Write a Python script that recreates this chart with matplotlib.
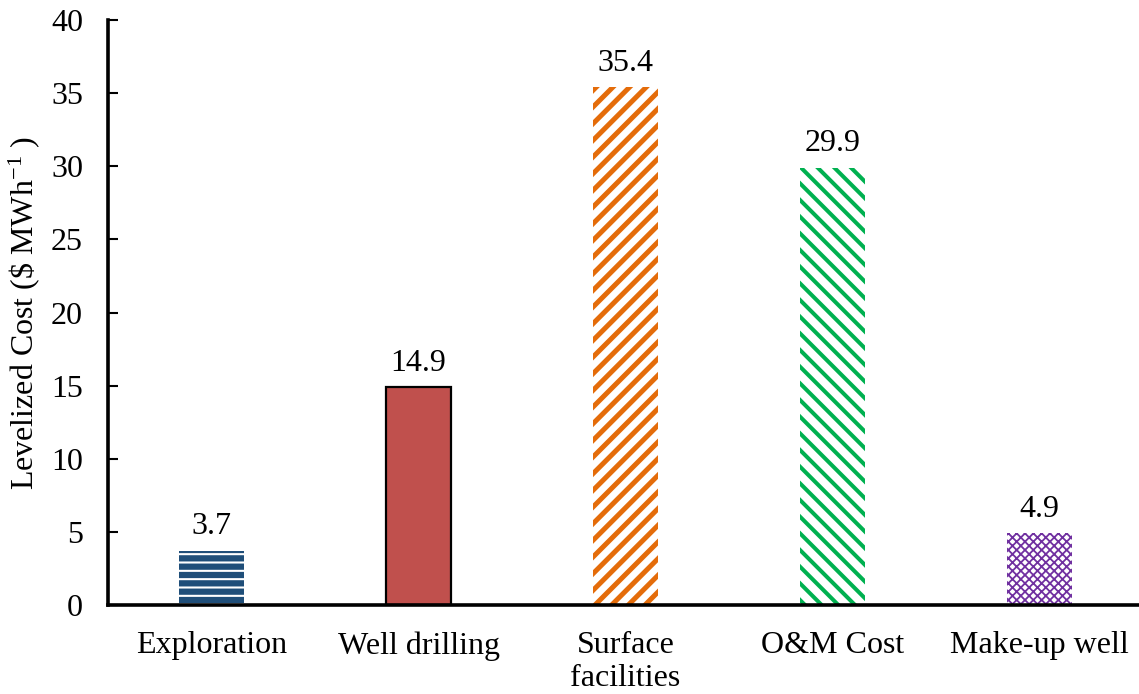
import matplotlib
matplotlib.use("Agg")
import matplotlib.pyplot as plt

# Levelized cost breakdown ($/MWh)
categories = ["Exploration", "Well drilling", "Surface\nfacilities", "O&M Cost", "Make-up well"]
values = [3.7, 14.9, 35.4, 29.9, 4.9]
value_labels = ["3.7", "14.9", "35.4", "29.9", "4.9"]
y_ticks = [0, 5, 10, 15, 20, 25, 30, 35, 40]

plt.rcParams["font.family"] = ["Liberation Serif", "DejaVu Serif"]
plt.rcParams["mathtext.fontset"] = "custom"
plt.rcParams["mathtext.rm"] = "Liberation Serif"
plt.rcParams["mathtext.it"] = "Liberation Serif:italic"
plt.rcParams["mathtext.bf"] = "Liberation Serif:bold"

fig = plt.figure(figsize=(11.39, 6.94), dpi=100)
ax = fig.add_axes([108 / 1139, 1 - 605 / 694, (1143 - 108) / 1139, 585 / 694])

# (facecolor, hatch colour, hatch, hatch linewidth, outline width)
styles = [
    ("#1F4E79", "white", "--", 1.5, 0),
    ("#C0504D", "black", None, 1.0, 1.6),
    ("white", "#E46C0A", "//", 3.6, 0),
    ("white", "#00B050", "\\\\", 2.9, 0),
    ("white", "#7030A0", "xxxx", 1.3, 0),
]

x = list(range(len(categories)))
for xi, v, (fc, ec, hatch, hlw, lw) in zip(x, values, styles):
    with plt.rc_context({"hatch.linewidth": hlw}):
        bar = ax.bar(xi, v, width=0.315, color=fc, edgecolor=ec, hatch=hatch,
                     linewidth=lw, zorder=2)
        for p in bar.patches:
            if hasattr(p, "set_hatch_linewidth"):
                p.set_hatch_linewidth(hlw)

for xi, v, lab in zip(x, values, value_labels):
    ax.text(xi, v + 0.65, lab, ha="center", va="bottom", fontsize=23)

ax.set_xlim(-0.5, len(categories) - 0.5)
ax.set_ylim(0, 40)
ax.set_yticks(y_ticks)
ax.set_xticks(x)
ax.set_xticklabels(categories, fontsize=23, linespacing=1.18)
ax.tick_params(axis="x", length=0, pad=19)
ax.tick_params(axis="y", direction="in", length=7, width=1.5, pad=18, labelsize=23)

for side in ("top", "right"):
    ax.spines[side].set_visible(False)
for side in ("left", "bottom"):
    ax.spines[side].set_linewidth(2.6)

ax.set_ylabel("Levelized Cost (\\$ MWh$^{-1}$ )", fontsize=23)
ax.yaxis.set_label_coords(-66 / 1035, 0.5)

fig.savefig("out.png", dpi=100)
